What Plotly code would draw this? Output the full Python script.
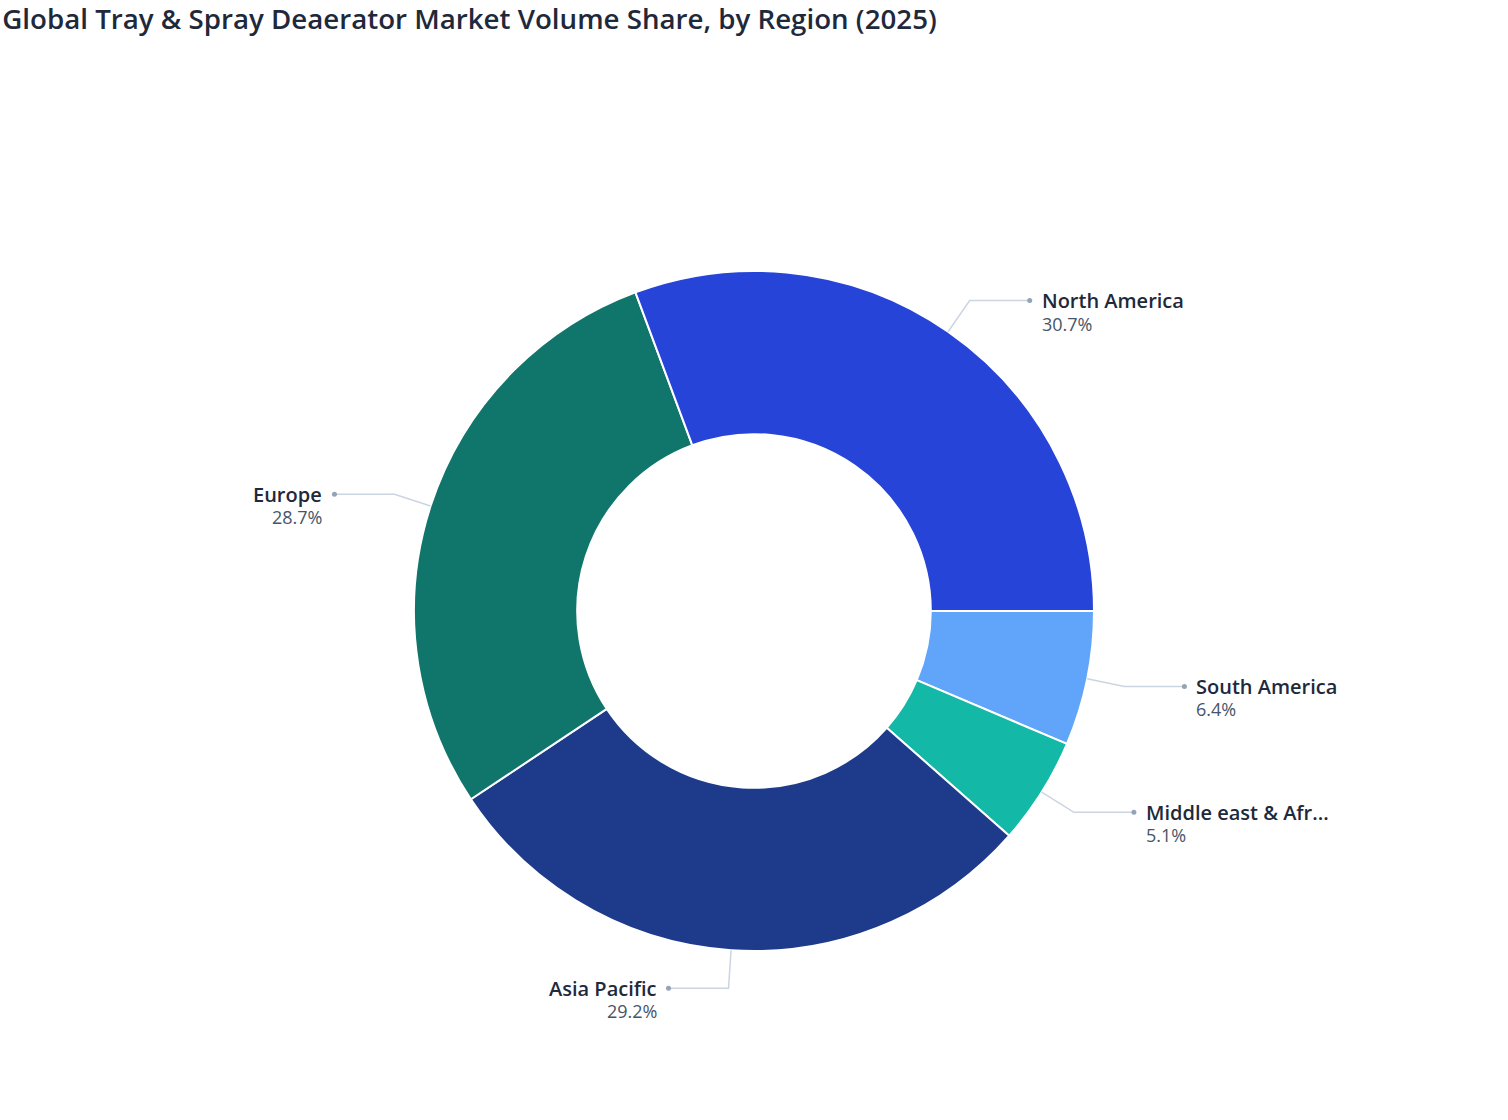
import math
import plotly.graph_objects as go

# ---- data ----
regions = ["North America", "Europe", "Asia Pacific", "Middle east & Africa", "South America"]
shares = [30.7, 28.7, 29.2, 5.1, 6.4]
colors = ["#2744d9", "#10756b", "#1e3a8a", "#14b8a6", "#60a5fa"]
title_text = "Global Tray & Spray Deaerator Market Volume Share, by Region (2025)"

W, H = 1508, 1120
CX, CY = 754, 611          # pie centre (px)
R_OUT = 340                # outer radius (px)
HOLE = 0.52
R_LEAD = 378               # end of radial leader
H_LEN = 60                 # horizontal leader length
GAP = 12                   # dot to text gap
FONT = "Open Sans"


def px_x(x):
    return x / W


def px_y(y):
    return 1 - y / H


def short(name, n=17):
    return name if len(name) <= n else name[:n] + "..."


# slices run counterclockwise from 3 o'clock: drawn clockwise in reverse order
fig = go.Figure(go.Pie(
    labels=regions[::-1],
    values=shares[::-1],
    marker=dict(colors=colors[::-1], line=dict(color="#ffffff", width=2)),
    hole=HOLE,
    sort=False,
    direction="clockwise",
    rotation=90,
    textinfo="none",
    hoverinfo="label+percent",
    showlegend=False,
    domain=dict(x=[px_x(CX - R_OUT), px_x(CX + R_OUT)],
                y=[px_y(CY + R_OUT), px_y(CY - R_OUT)]),
))

shapes = []
annotations = []
total = sum(shares)
cum = 0.0
for name, v in zip(regions, shares):
    mid = (cum + v / 2) / total * 2 * math.pi  # counterclockwise from east
    cum += v
    c, s = math.cos(mid), math.sin(mid)
    x1, y1 = CX + R_OUT * c, CY - R_OUT * s
    x2, y2 = CX + R_LEAD * c, CY - R_LEAD * s
    side = 1 if c >= 0 else -1
    x3 = x2 + side * H_LEN
    shapes.append(dict(type="path", xref="paper", yref="paper",
                       path=f"M {px_x(x1)} {px_y(y1)} L {px_x(x2)} {px_y(y2)} L {px_x(x3)} {px_y(y2)}",
                       line=dict(color="#cbd5e1", width=1.5)))
    shapes.append(dict(type="circle", xref="paper", yref="paper",
                       x0=px_x(x3 - 2.5), x1=px_x(x3 + 2.5),
                       y0=px_y(y2 + 2.5), y1=px_y(y2 - 2.5),
                       fillcolor="#94a3b8", line=dict(width=0)))
    tx = x3 + side * GAP
    anchor = "left" if side > 0 else "right"
    annotations.append(dict(x=px_x(tx), y=px_y(y2), xref="paper", yref="paper",
                            text=short(name), showarrow=False, xanchor=anchor, yanchor="middle",
                            align=anchor, xshift=-2 * side if side < 0 else -2,
                            font=dict(family=FONT, size=20, weight=600, color="#1e293b")))
    annotations.append(dict(x=px_x(tx), y=px_y(y2 + 23), xref="paper", yref="paper",
                            text=f"{v:.1f}%", showarrow=False, xanchor=anchor, yanchor="middle",
                            align=anchor, xshift=-2 * side if side < 0 else -2,
                            font=dict(family=FONT, size=18, color="#475569")))

fig.update_layout(
    width=W, height=H,
    margin=dict(l=0, r=0, t=0, b=0),
    paper_bgcolor="#ffffff",
    plot_bgcolor="#ffffff",
    title=dict(text=title_text, x=0.0015, xref="container", xanchor="left",
               y=1 - 19 / H, yref="container", yanchor="middle", pad=dict(l=0, t=0),
               font=dict(family=FONT, size=27.7, weight=600, color="#1e293b")),
    shapes=shapes,
    annotations=annotations,
)

fig.write_html("out.html", config={"displayModeBar": False},
               post_script="document.body.style.margin='0';")
